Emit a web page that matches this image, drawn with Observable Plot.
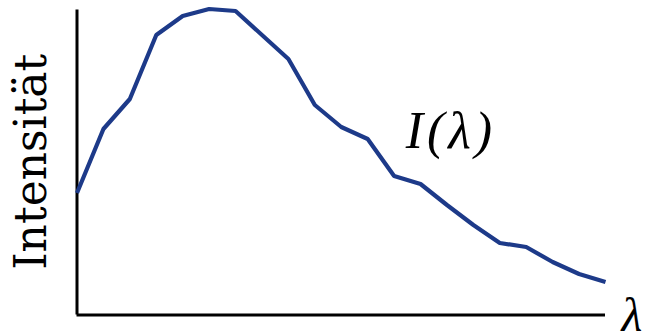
<!DOCTYPE html>
<html>
<head>
<meta charset="utf-8">
<script src="https://cdn.jsdelivr.net/npm/d3@7"></script>
<script src="https://cdn.jsdelivr.net/npm/@observablehq/plot@0.6"></script>
<style>
  html, body { margin: 0; padding: 0; background: #fff; }
  #chart svg { display: block; }
</style>
</head>
<body>
<div id="chart"></div>
<script>
// Spectral intensity sampled at equally spaced wavelength steps (arbitrary units)
const step = d3.range(21);
const intensity = [122, 186, 216, 280, 299, 306, 304, 280, 256, 210, 188, 176, 139, 131, 110, 90, 72, 68, 53, 41, 33];

// Curve label and axis titles
const curveLabel = [{x: 14, y: 167, text: "I(λ)"}];
const xTitle = "λ";
const yTitle = "Intensität";

const data = step.map((s, i) => ({s, v: intensity[i]}));

const chart = Plot.plot({
  width: 646,
  height: 334,
  marginLeft: 76.5,
  marginRight: 41,
  marginTop: 8,
  marginBottom: 19.5,
  x: {domain: [0, 20], axis: null},
  y: {domain: [0, 306.5], axis: null},
  style: {background: "#fff"},
  marks: [
    Plot.ruleX([0], {stroke: "#000", strokeWidth: 3, y1: 0, y2: 306.5, insetBottom: -1.5}),
    Plot.ruleY([0], {stroke: "#000", strokeWidth: 3}),
    Plot.line(data, {x: "s", y: "v", stroke: "#1d3a89", strokeWidth: 4.2, strokeLinejoin: "miter", strokeLinecap: "butt"}),
    Plot.text(curveLabel, {x: "x", y: "y", text: "text", fontSize: 52, fontStyle: "italic",
      fontFamily: "Liberation Serif", fill: "#000", textAnchor: "middle", lineAnchor: "bottom", dx: 4}),
    Plot.text([xTitle], {frameAnchor: "bottom-right", text: d => d, fontSize: 48, fontStyle: "italic",
      fontFamily: "Liberation Serif", fill: "#000", textAnchor: "start", lineAnchor: "bottom", dx: 16, dy: 16}),
    Plot.text([yTitle], {frameAnchor: "left", text: d => d, rotate: -90, fontSize: 44,
      fontFamily: "DejaVu Serif", fill: "#000", textAnchor: "middle", lineAnchor: "bottom", dx: -31.5})
  ]
});

// Loosen the spacing of the curve label so the math reads wider
d3.select(chart).selectAll("text")
  .filter(function() { return this.textContent === curveLabel[0].text; })
  .attr("letter-spacing", "4px");

document.getElementById("chart").append(chart);
</script>
</body>
</html>
